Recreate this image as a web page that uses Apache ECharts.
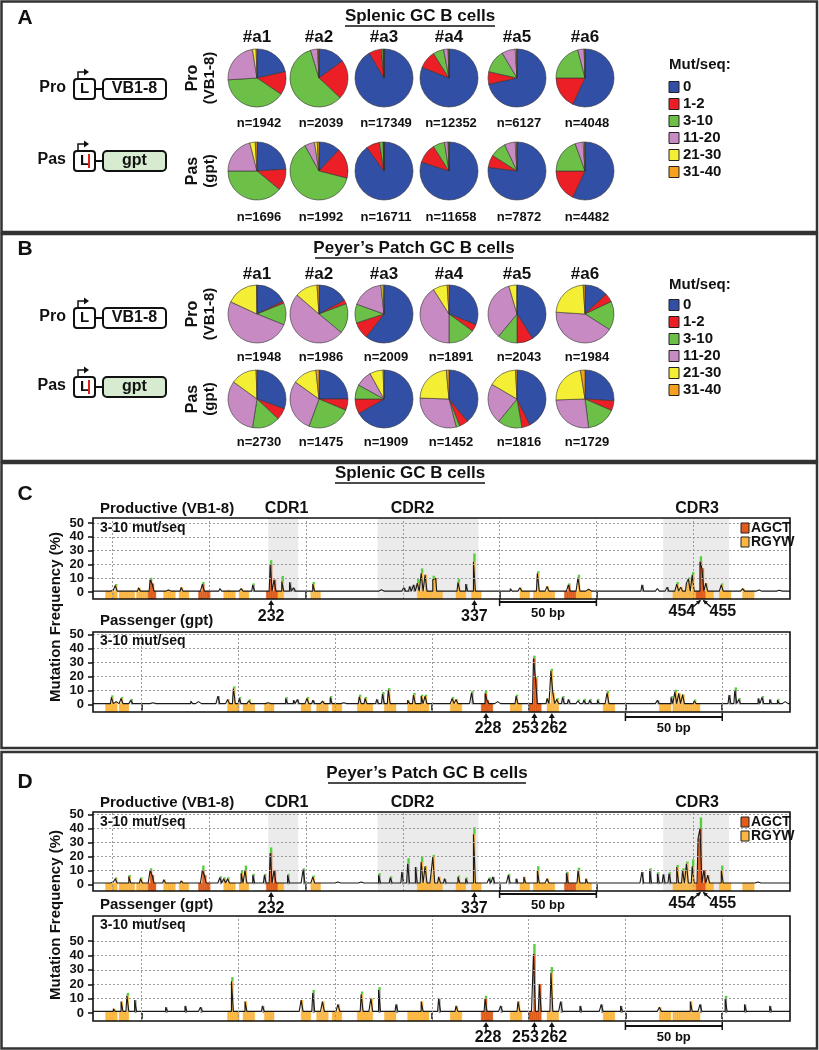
<!DOCTYPE html>
<html>
<head>
<meta charset="utf-8">
<script src="https://cdn.jsdelivr.net/npm/echarts@6/dist/echarts.min.js"></script>
<style>
html,body{margin:0;padding:0;background:#fff;}
#main{width:819px;height:1050px;}
</style>
</head>
<body>
<div id="main"></div>
<script>
// ---------- data ----------
var mutBins = ['0', '1-2', '3-10', '11-20', '21-30', '31-40'];
var mice = ['#a1', '#a2', '#a3', '#a4', '#a5', '#a6'];

// sequences per mouse
var splProN = [1942, 2039, 17349, 12352, 6127, 4048];
var splPasN = [1696, 1992, 16711, 11658, 7872, 4482];
var ppProN = [1948, 1986, 2009, 1891, 2043, 1984];
var ppPasN = [2730, 1475, 1909, 1452, 1816, 1729];

// % of sequences in each mut/seq bin (0, 1-2, 3-10, 11-20, 21-30, 31-40)
var splPro = [
  [21.5, 13, 39.5, 23.5, 2, 0.5],
  [15, 22, 58.3, 3.9, 0.4, 0.4],
  [91.5, 7, 1, 0.5, 0, 0],
  [81, 10, 6, 2.5, 0.3, 0.2],
  [71.5, 7, 13, 7.5, 0.7, 0.3],
  [57, 18, 21, 3.5, 0.3, 0.2]
];
var splPas = [
  [24, 12, 39, 21, 3, 1],
  [12, 17, 63, 5.5, 1.5, 1],
  [90, 7.5, 2, 0.5, 0, 0],
  [80, 11, 6.5, 2, 0.3, 0.2],
  [77, 7, 9, 6, 0.7, 0.3],
  [57, 18, 19.5, 4.5, 0.7, 0.3]
];
var ppPro = [
  [17.8, 1.1, 12.2, 50.8, 17.8, 0.3],
  [17, 2.2, 16.7, 50, 12.5, 1.1],
  [60.5, 9.5, 10.5, 17.8, 1.2, 0.5],
  [31, 4, 15, 41, 8, 1],
  [41, 9, 11, 34.5, 4.5, 0],
  [13, 5, 16, 42, 23, 1]
];
var ppPas = [
  [30.5, 6.5, 15.5, 32.5, 14.5, 0.5],
  [25, 6.3, 24.3, 29.3, 13.4, 1.7],
  [66.7, 8.3, 8, 9, 7.5, 0.5],
  [39, 5, 2, 29.5, 23, 1.5],
  [42.7, 4.6, 13.6, 22.5, 15.8, 0.8],
  [26, 5.5, 16.5, 26.5, 23, 2.5]
];

// mutation profiles: [position (bp), mutation frequency %, green error cap]
var proTicks = [150, 200, 250, 300, 350, 400, 450];
var pasTicks = [50, 100, 150, 200, 250, 300, 350];
var yTicks = [0, 10, 20, 30, 40, 50];
var yGrid = [10, 20, 30, 40, 50];
var cdrNames = ['CDR1', 'CDR2', 'CDR3'];
var cdrRanges = [[230.5, 246], [287, 339], [434.5, 468.5]];
var cdrLabelPos = [240, 305, 452];

var proRGYW = [[147, 152], [154, 161], [163, 168], [177, 182], [185, 189], [208, 213], [216, 220], [235, 238], [253, 257],
  [308, 314], [315, 320], [328, 332], [336, 340], [361, 365], [368, 373], [374, 378], [390, 397],
  [440, 445], [446, 451], [457, 460], [464, 469], [476, 481]];
var proAGCT = [[169, 172], [195, 200], [230, 235], [384, 389], [452, 456]];
var pasRGYW = [[32, 37], [39, 43], [95, 100], [103, 108], [114, 118], [133, 137], [141, 146], [149, 153], [162, 169],
  [176, 181], [188, 193], [194, 198], [210, 215], [241, 246], [260, 265], [289, 294], [318, 323], [325, 331], [332, 338]];
var pasAGCT = [[226, 231], [251, 256]];

var proMarks = [232, 337];
var proPair = [454, 455];
var pasMarks = [228, 253, 262];

var cProBase = 0.6, cPasBase = 0.6, dProBase = 0.9, dPasBase = 1.2;

var cProPeaks = [[150, 1.2], [152, 4.8, 1], [164, 3], [170, 8.8, 1.5], [171, 6], [179, 1.5], [186, 3.3], [197, 5.7, 1.5],
  [206, 2.4], [210, 1.4], [217, 2.4], [223, 5.2, 1], [227, 1], [232, 19.5, 3.5], [234, 8.8], [238, 7.6, 4], [242, 7],
  [244, 3], [254, 5.7, 1.5], [279, 1.4], [289, 1.6], [301, 3], [304, 4], [306, 5.2], [308, 6.4, 3], [310, 13.6, 3.5],
  [312, 12.4], [316, 8.8, 3], [317, 10], [329, 7, 2.5], [333, 5.7], [337, 21.9, 6], [356, 2.4], [361, 3],
  [370, 13.6, 1.5], [375, 4], [386, 5.2, 1], [391, 10.5, 2], [396, 2], [424, 5.2], [432, 2.5], [437, 3.5],
  [442, 5.7, 1.5], [444, 3.5], [447, 6.4], [448, 9.5, 1], [450, 12.4, 2], [454, 21.9, 4], [455, 17], [457, 6.4],
  [465, 5.2, 1], [476, 2.4], [484, 1.5], [494, 1.2]];

var cPasPeaks = [[35, 5, 1.5], [37, 2], [40, 4.3, 1], [45, 3, 1], [56, 1.2], [76, 2.4], [79, 2], [90, 6], [95, 3.6],
  [98, 11.4, 1.5], [101, 4.3, 1], [106, 2.6, 1], [115, 1.2], [125, 4.3, 1], [129, 3], [131, 3.6], [136, 4.3, 1],
  [139, 3], [144, 2.4], [148, 5, 1], [154, 1.2], [163, 5.5, 1.5], [166, 4.3, 1], [172, 3.6], [175, 7.4, 1.5],
  [178, 10.2, 1.5], [188, 3], [191, 6.7, 1.5], [195, 6, 1], [197, 6, 1], [204, 2], [211, 4.3, 1], [213, 3.6],
  [221, 8.3, 1.5], [228, 7.9, 2], [229, 3], [234, 2], [244, 6, 1], [248, 2], [253, 32.9, 2], [254, 18.6, 1],
  [260, 4.3], [262, 24, 1.5], [263, 8.3], [265, 3.6, 1], [268, 5, 1], [271, 3.6], [276, 2.6, 1], [279, 3, 1],
  [282, 3, 1], [286, 3, 1], [291, 8.3, 1.5], [298, 2], [307, 2], [317, 3], [324, 5, 1], [326, 9, 1.5], [328, 7.9],
  [330, 7.1], [336, 2.6, 1], [346, 2], [354, 6.7], [357, 10.2, 2], [359, 3.6, 1], [369, 4.3], [371, 5, 1],
  [375, 3.6], [379, 3, 1], [382, 2]];

var dProPeaks = [[150, 1.7], [152, 4, 1], [159, 5.7, 1], [165, 4, 1], [170, 10, 1.5], [171, 6.5], [177, 3.3], [186, 2.4],
  [197, 10, 3.5], [198, 6.5], [206, 4.8, 1], [208, 4, 1], [210, 4, 1], [217, 8, 2], [219, 10, 3.5], [223, 6.5, 1],
  [229, 6.5, 1], [232, 22.5, 4], [234, 10], [241, 6.5, 1], [249, 10.5, 1], [254, 5.3, 1], [266, 1.7], [278, 1.7],
  [288, 6.5, 1.5], [294, 4.8, 1], [300, 8.8], [303, 14.8, 4], [307, 12.4], [310, 16, 4], [312, 12.9], [315, 6.5],
  [316, 19.6, 1.5], [319, 5.3], [322, 4], [329, 5.3, 1], [333, 4, 1], [337, 35.9, 5], [345, 4, 1], [347, 5.3],
  [355, 6.5, 1], [359, 4], [363, 5.3], [370, 10, 3], [375, 4], [385, 8, 1], [391, 10, 2], [395, 4], [424, 8.8],
  [428, 10.5, 1], [432, 7.7, 1], [435, 7.2], [438, 7.7, 1], [442, 12.4, 1.5], [445, 10, 1.5], [447, 14.8, 1.5],
  [450, 12.9, 5], [453, 32.8], [454, 40, 8], [456, 10], [458, 6.5], [465, 10, 3.5], [483, 1.7]];

var dPasPeaks = [[36, 3], [40, 8], [43, 12, 2], [47, 9], [63, 4], [73, 5], [81, 4], [97, 22, 3], [104, 8], [113, 5],
  [133, 9], [139, 14, 2], [144, 8], [152, 6], [164, 13, 2], [169, 10], [173, 16, 2], [182, 6], [195, 8], [204, 10],
  [213, 5], [228, 10, 2], [236, 5], [245, 8], [253, 41, 7], [256, 20], [262, 28, 4], [267, 8], [277, 5], [288, 6],
  [298, 5], [318, 4], [334, 8], [339, 6], [352, 10, 2], [362, 6], [375, 5]];

// ---------- drawing ----------
var chart = echarts.init(document.getElementById('main'));
var FF = '"Liberation Sans", Arial, Helvetica, sans-serif';
var binColors = ['#3150a5', '#ec1f27', '#6cbf47', '#c88ac2', '#f4ee35', '#f6a01f'];
var AGCT_COL = '#e05d1c', RGYW_COL = '#fbb741', GRAY_FILL = '#8c8c8c', GREEN = '#56cf3c';

var G = [];
function txt(x, y, s, size, o) {
  o = o || {};
  G.push({type: 'text', x: x, y: y, rotation: o.rot || 0, z: 100, silent: true,
    style: {text: s, fill: o.fill || '#111', font: 'bold ' + size + 'px ' + FF,
      align: o.align || 'center', verticalAlign: 'middle'}});
}
function ln(x1, y1, x2, y2, w, c) {
  G.push({type: 'line', z: 100, silent: true, shape: {x1: x1, y1: y1, x2: x2, y2: y2},
    style: {stroke: c || '#111', lineWidth: w || 1.5}});
}
function box(x, y, w, h, o) {
  o = o || {};
  G.push({type: 'rect', z: 100, silent: true, shape: {x: x, y: y, width: w, height: h, r: o.r || 0},
    style: {fill: o.fill || 'none', stroke: o.stroke || '#111', lineWidth: o.lw == null ? 1.5 : o.lw}});
}
function poly(pts, c) {
  G.push({type: 'polygon', z: 100, silent: true, shape: {points: pts}, style: {fill: c || '#111'}});
}
function pline(pts, w) {
  G.push({type: 'polyline', z: 100, silent: true, shape: {points: pts}, style: {stroke: '#111', lineWidth: w || 1.5, fill: 'none'}});
}
function title(cx, y, s, w) {
  txt(cx, y, s, 17);
  ln(cx - w / 2, y + 10, cx + w / 2, y + 10, 1.5);
}

// panel frames
box(1.5, 1.5, 815.5, 230.5, {stroke: '#333', lw: 2.5});
box(1.5, 234, 815.5, 227, {stroke: '#333', lw: 2.5});
box(1.5, 463, 815.5, 285, {stroke: '#333', lw: 2.5});
box(1.5, 752, 815.5, 296.5, {stroke: '#333', lw: 2.5});

var series = [];
var pieX = [257, 319, 384, 449, 517, 585];

function pieSeries(vals, cx, cy) {
  series.push({
    type: 'pie', center: [cx, cy], radius: 29, startAngle: 90, clockwise: true, silent: true,
    label: {show: false}, labelLine: {show: false}, emphasis: {disabled: true},
    itemStyle: {borderColor: '#333', borderWidth: 0.6},
    data: vals.map(function (v, i) {
      return {name: mutBins[i], value: v, itemStyle: {color: binColors[i]}};
    })
  });
}

function schematic(y, label, pas) {
  txt(66, y - 1, label, 16, {align: 'right'});
  box(74, y - 10, 21, 20, {r: 3, lw: 2, fill: '#fff'});
  txt(84.5, y, 'L', 15);
  if (pas) ln(89, y - 7, 89, y + 7, 2, '#e0201c');
  ln(95, y, 103, y, 2);
  box(103, y - 10, 63, 20, {r: 4, lw: 2, fill: pas ? '#d6ebd0' : '#fff'});
  txt(134.5, y, pas ? 'gpt' : 'VB1-8', 16);
  pline([[78, y - 10], [78, y - 17], [84, y - 17]], 1.5);
  poly([[84, y - 20.5], [89, y - 17], [84, y - 13.5]]);
}

function pieBlock(L, titleText, titleW, proVals, pasVals, proN, pasN) {
  title(L.titleX, L.titleY, titleText, titleW);
  txt(25, L.letterY, L.letter, 21);
  mice.forEach(function (m, i) {
    txt(pieX[i], L.miceY, m, 17);
    pieSeries(proVals[i], pieX[i], L.proY);
    pieSeries(pasVals[i], pieX[i], L.pasY);
    txt(pieX[i] + 2, L.nProY, 'n=' + proN[i], 13);
    txt(pieX[i] + 2, L.nPasY, 'n=' + pasN[i], 13);
  });
  txt(193, L.proY, 'Pro', 16, {rot: Math.PI / 2});
  txt(210, L.proY, '(VB1-8)', 15, {rot: Math.PI / 2});
  txt(193, L.pasY, 'Pas', 16, {rot: Math.PI / 2});
  txt(210, L.pasY, '(gpt)', 15, {rot: Math.PI / 2});
  schematic(L.schPro, 'Pro', false);
  schematic(L.schPas, 'Pas', true);
  txt(669, L.legY, 'Mut/seq:', 15, {align: 'left'});
  mutBins.forEach(function (b, i) {
    var yy = L.legY0 + 17 * i;
    G.push({type: 'rect', z: 100, silent: true, shape: {x: 669, y: yy - 5.5, width: 10, height: 11},
      style: {fill: binColors[i], stroke: '#222', lineWidth: 1}});
    txt(683, yy, b, 15, {align: 'left'});
  });
}

pieBlock({letter: 'A', letterY: 18, titleX: 420, titleY: 16, miceY: 37, proY: 78, pasY: 171, nProY: 123, nPasY: 217,
  schPro: 89, schPas: 161, legY: 65, legY0: 87}, 'Splenic GC B cells', 150, splPro, splPas, splProN, splPasN);
pieBlock({letter: 'B', letterY: 249, titleX: 414, titleY: 248, miceY: 274, proY: 314, pasY: 399, nProY: 357, nPasY: 442,
  schPro: 318, schPas: 387, legY: 285, legY0: 305}, 'Peyer\u2019s Patch GC B cells', 198, ppPro, ppPas, ppProN, ppPasN);

// ---------- mutation profiles ----------
var plots = [
  {peaks: cProPeaks, base: cProBase, ticks: proTicks, min: 140, max: 500, top: 518, height: 81, ymin: -5.1, ymax: 53.6, rgyw: proRGYW, agct: proAGCT, pro: true},
  {peaks: cPasPeaks, base: cPasBase, ticks: pasTicks, min: 25, max: 385, top: 632, height: 80, ymin: -5.4, ymax: 51.8, rgyw: pasRGYW, agct: pasAGCT, pro: false},
  {peaks: dProPeaks, base: dProBase, ticks: proTicks, min: 140, max: 500, top: 812, height: 79, ymin: -4.8, ymax: 51.9, rgyw: proRGYW, agct: proAGCT, pro: true},
  {peaks: dPasPeaks, base: dPasBase, ticks: pasTicks, min: 25, max: 385, top: 916, height: 105, ymin: -5.5, ymax: 67.4, rgyw: pasRGYW, agct: pasAGCT, pro: false}
];
var PL = 93, PW = 697;

function inRanges(x, rr) {
  for (var i = 0; i < rr.length; i++) if (x >= rr[i][0] && x <= rr[i][1]) return true;
  return false;
}

var grids = [], xAxes = [], yAxes = [];
plots.forEach(function (pf, gi) {
  grids.push({left: PL, top: pf.top, width: PW, height: pf.height, show: false});
  xAxes.push({gridIndex: gi, type: 'value', min: pf.min, max: pf.max,
    axisLine: {show: false}, splitLine: {show: false}, axisLabel: {show: false},
    axisTick: {show: true, customValues: pf.ticks, length: 6, lineStyle: {color: '#111', width: 1.5}}});
  yAxes.push({gridIndex: gi, type: 'value', min: pf.ymin, max: pf.ymax,
    axisLine: {show: false}, splitLine: {show: false},
    axisTick: {show: true, customValues: yTicks, length: 5, lineStyle: {color: '#111', width: 1.5}},
    axisLabel: {customValues: yTicks, margin: 9, fontSize: 13, fontWeight: 'bold', color: '#111', fontFamily: FF}});

  var byPos = {};
  pf.peaks.forEach(function (p) { byPos[p[0]] = p; });
  var full = [];
  for (var x = pf.min; x <= pf.max; x++) {
    var p = byPos[x];
    full.push([x, p ? p[1] : pf.base, p && p[2] ? p[2] : 0]);
  }

  // background: CDR shading + dotted grid
  var bg = {type: 'line', xAxisIndex: gi, yAxisIndex: gi, data: [], z: 1, silent: true,
    markLine: {silent: true, symbol: 'none', label: {show: false}, animation: false,
      lineStyle: {color: '#9a9a9a', type: [2, 2], width: 1},
      data: yGrid.map(function (v) { return {yAxis: v}; }).concat(pf.ticks.map(function (v) { return {xAxis: v}; }))}};
  if (pf.pro) {
    bg.markArea = {silent: true, itemStyle: {color: '#ebebeb'},
      data: cdrRanges.map(function (r) { return [{xAxis: r[0]}, {xAxis: r[1]}]; })};
  }
  series.push(bg);

  series.push({type: 'custom', xAxisIndex: gi, yAxisIndex: gi, z: 2, silent: true, data: full,
    renderItem: function (params, api) {
      var x = api.value(0), v = api.value(1), e = api.value(2);
      var kids = [];
      var hot = inRanges(x, pf.agct) ? AGCT_COL : (inRanges(x, pf.rgyw) ? RGYW_COL : null);
      if (hot) {
        var a = api.coord([x - 0.5, pf.ymin]), b = api.coord([x + 0.5, v]);
        kids.push({type: 'rect', shape: {x: a[0], y: b[1], width: b[0] - a[0], height: a[1] - b[1]},
          style: {fill: hot, stroke: hot, lineWidth: 0.4}});
      } else if (v >= 3) {
        var a2 = api.coord([x - 0.5, 0]), b2 = api.coord([x + 0.5, v]);
        kids.push({type: 'rect', shape: {x: a2[0], y: b2[1], width: b2[0] - a2[0], height: a2[1] - b2[1]},
          style: {fill: GRAY_FILL}});
      }
      if (e > 0) {
        var c = api.coord([x, v]), d = api.coord([x, v + e]);
        kids.push({type: 'rect', shape: {x: c[0] - 1.2, y: d[1], width: 2.4, height: c[1] - d[1]}, style: {fill: GREEN}});
      }
      return {type: 'group', children: kids};
    }});

  series.push({type: 'line', xAxisIndex: gi, yAxisIndex: gi, z: 3, silent: true, step: 'middle',
    showSymbol: false, symbol: 'none', lineStyle: {color: '#1a1a1a', width: 1.1},
    data: full.map(function (d) { return [d[0], d[1]]; })});

  box(PL, pf.top, PW, pf.height, {lw: 1.6});
});

chart.setOption({
  animation: false,
  grid: grids, xAxis: xAxes, yAxis: yAxes, series: series, graphic: G
});

// ---------- annotations placed through the axes ----------
function px(gi, pos) { return chart.convertToPixel({gridIndex: gi}, [pos, 0])[0]; }
function upArrow(x, yTip, len) {
  ln(x, yTip + 4, x, yTip + len, 1.5);
  poly([[x - 3, yTip + 5], [x, yTip], [x + 3, yTip + 5]]);
}
function scaleBar(gi, a, b, y) {
  var x1 = px(gi, a), x2 = px(gi, b);
  ln(x1, y, x2, y, 2);
  ln(x1, y - 4, x1, y + 4, 1.5);
  ln(x2, y - 4, x2, y + 4, 1.5);
  txt((x1 + x2) / 2, y + 11, '50 bp', 13);
}

var panelText = [
  {letter: 'C', letterY: 494, titleX: 410, titleY: 473, titleS: 'Splenic GC B cells', titleW: 150, pro: 0, pas: 1, freqY: 617},
  {letter: 'D', letterY: 782, titleX: 427, titleY: 773, titleS: 'Peyer\u2019s Patch GC B cells', titleW: 198, pro: 2, pas: 3, freqY: 915}
];
panelText.forEach(function (P) {
  var pr = plots[P.pro], ps = plots[P.pas];
  var prB = pr.top + pr.height, psB = ps.top + ps.height;
  txt(25, P.letterY, P.letter, 21);
  title(P.titleX, P.titleY, P.titleS, P.titleW);
  txt(100, pr.top - 9, 'Productive (VB1-8)', 15, {align: 'left'});
  cdrNames.forEach(function (n, i) { txt(px(P.pro, cdrLabelPos[i]), pr.top - 9, n, 16); });
  txt(100, pr.top + 10, '3-10 mut/seq', 14, {align: 'left'});
  txt(100, ps.top - 11, 'Passenger (gpt)', 15, {align: 'left'});
  txt(100, ps.top + 9, '3-10 mut/seq', 14, {align: 'left'});
  txt(56, P.freqY, 'Mutation Frequency (%)', 15, {rot: Math.PI / 2});
  // hotspot legend
  G.push({type: 'rect', z: 100, silent: true, shape: {x: 741, y: pr.top + 5, width: 8, height: 10}, style: {fill: AGCT_COL, stroke: '#222', lineWidth: 1}});
  G.push({type: 'rect', z: 100, silent: true, shape: {x: 741, y: pr.top + 19, width: 8, height: 10}, style: {fill: RGYW_COL, stroke: '#222', lineWidth: 1}});
  txt(751, pr.top + 10, 'AGCT', 14, {align: 'left'});
  txt(751, pr.top + 24, 'RGYW', 14, {align: 'left'});
  // labelled positions
  proMarks.forEach(function (m) {
    var x = px(P.pro, m);
    upArrow(x, prB + 1, 10);
    txt(x, prB + 18, String(m), 16);
  });
  var xa = px(P.pro, proPair[0]), xb = px(P.pro, proPair[1]);
  var xm = (xa + xb) / 2;
  ln(xm - 9, prB + 8, xm - 1.5, prB + 1.5, 1.5);
  ln(xm + 9, prB + 8, xm + 1.5, prB + 1.5, 1.5);
  poly([[xm - 1, prB + 1], [xm - 6, prB + 2.5], [xm - 3, prB + 5.5]]);
  poly([[xm + 1, prB + 1], [xm + 6, prB + 2.5], [xm + 3, prB + 5.5]]);
  txt(xm - 20, prB + 13, String(proPair[0]), 16);
  txt(xm + 21, prB + 13, String(proPair[1]), 16);
  scaleBar(P.pro, 350, 400, prB + 3);
  pasMarks.forEach(function (m, i) {
    var x = px(P.pas, m);
    upArrow(x, psB + 1, 10);
    txt(x + (i === 1 ? -9 : 2), psB + 17, String(m), 16);
  });
  scaleBar(P.pas, 300, 350, psB + 5);
});

chart.setOption({graphic: G});
</script>
</body>
</html>
